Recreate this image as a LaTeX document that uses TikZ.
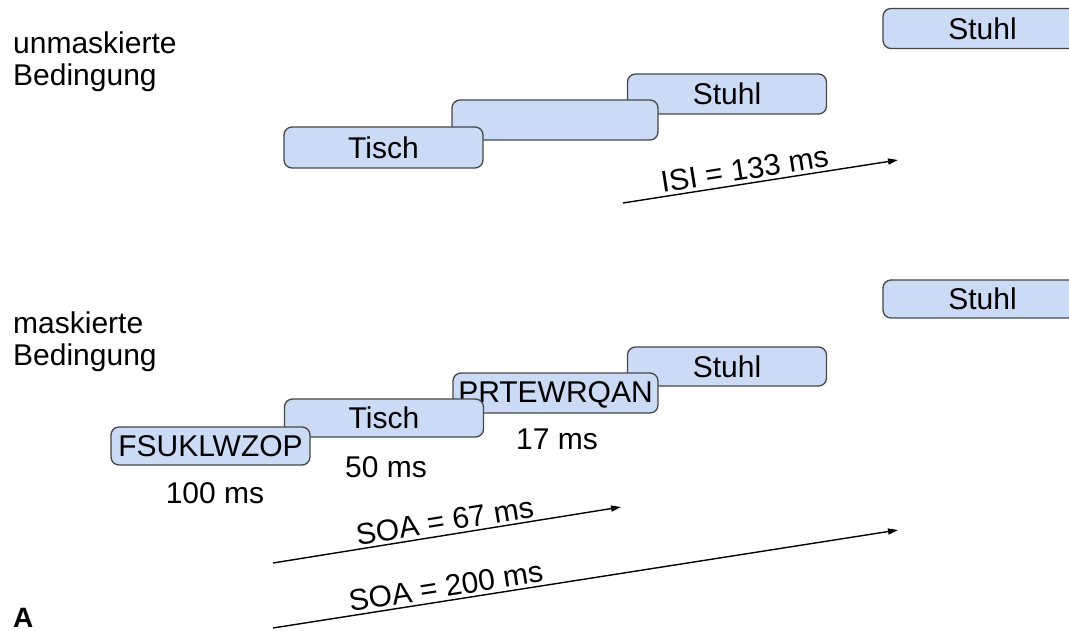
\documentclass[tikz,border=0pt]{standalone}
\usepackage{fontspec}
\setmainfont{Liberation Sans}
\usetikzlibrary{arrows.meta}
\definecolor{boxfill}{RGB}{203,219,245}
\definecolor{boxline}{RGB}{70,70,70}
\begin{document}
\begin{tikzpicture}[x=1pt,y=-1pt,
  font=\fontsize{30}{32}\selectfont,
  stim/.style={draw=boxline, fill=boxfill, line width=1.3pt, rounded corners=8pt,
               minimum width=199pt, minimum height=40pt, inner sep=0pt},
  timeline/.style={line width=1.4pt, -{Triangle[length=10pt,width=6pt]}},
  lab/.style={sloped, above, inner sep=3pt},
  cond/.style={anchor=base west, align=left, inner sep=0pt}]
\useasboundingbox (0,0) rectangle (1069,631);
\clip (0,0) rectangle (1069,631);

% condition labels (anchor is the baseline of the last line)
\node[cond] (cu) at (13,86) {unmaskierte\\Bedingung};
\node[cond] (cm) at (13,365) {maskierte\\Bedingung};
\node[anchor=base west, inner sep=0pt, font=\fontsize{28}{30}\selectfont\bfseries] (panel) at (13,627) {A};

% unmasked sequence (drawn back to front)
\node[stim] (u4) at (982.5,28.5) {Stuhl};
\node[stim] (u3) at (727,94) {Stuhl};
\node[stim, minimum width=206pt] (u2) at (555,120) {};
\node[stim, minimum height=41pt] (u1) at (383.5,147.5) {Tisch};

\coordinate (isiS) at (623,203);
\coordinate (isiE) at (898,160);
\draw[timeline] (isiS) -- node[lab, pos=0.45] (isi) {ISI = 133 ms} (isiE);

% masked sequence (drawn back to front)
\node[stim, minimum height=38pt] (m5) at (982.5,299) {Stuhl};
\node[stim, minimum height=39pt] (m4) at (727,366.5) {Stuhl};
\node[stim, minimum width=205pt, minimum height=40pt, text height=21pt, text depth=3pt] (m3) at (555.5,393) {PRTEWRQAN};
\node[stim, minimum height=38pt] (m2) at (384,418) {Tisch};
\node[stim, minimum height=38pt] (m1) at (210.5,446) {FSUKLWZOP};

% presentation durations
\node (d1) at (215,493) {100 ms};
\node (d2) at (386,467) {50 ms};
\node (d3) at (557,439) {17 ms};

% onset asynchronies
\coordinate (soaA) at (273,563);
\coordinate (soaB) at (621,507);
\coordinate (soaC) at (273,628);
\coordinate (soaD) at (898,530);
\draw[timeline] (soaA) -- node[lab, pos=0.5] (soa1) {SOA = 67 ms} (soaB);
\draw[timeline] (soaC) -- node[lab, pos=0.28] (soa2) {SOA = 200 ms} (soaD);
\end{tikzpicture}
\end{document}
